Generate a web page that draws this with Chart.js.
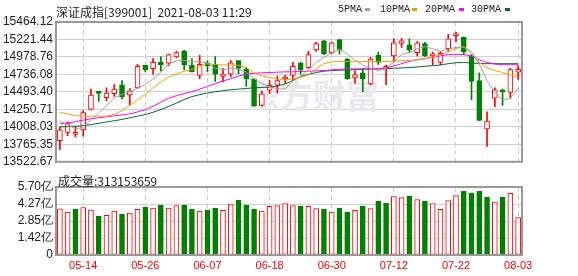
<!DOCTYPE html>
<html>
<head>
<meta charset="utf-8">
<script src="https://cdn.jsdelivr.net/npm/chart.js@4/dist/chart.umd.min.js"></script>
<style>
body { margin: 0; width: 578px; height: 276px; background: #fff; position: relative; overflow: hidden; }
canvas { position: absolute; left: 0; }
#kline { top: 0; }
#vol { top: 172px; }
.t { position: absolute; white-space: nowrap; line-height: 1; color: #222; }
#title { left: 56px; top: 3px; font: 12px "Noto Sans CJK SC", sans-serif; }
#volTitle { left: 58px; top: 172px; font: 12px "Noto Sans CJK SC", sans-serif; }
.lg { font: 10px "Liberation Mono", monospace; top: 4px; }
.box { position: absolute; top: 8px; width: 5px; height: 3px; }
</style>
</head>
<body>
<canvas id="kline" width="578" height="172"></canvas>
<canvas id="vol" width="578" height="104"></canvas>
<div class="t" id="title">深证成指[399001]&nbsp; 2021-08-03 11:29</div>
<div class="t lg" style="left:338px">5PMA</div><div class="box" style="left:365px;background:#a0a0a0"></div>
<div class="t lg" style="left:380px">10PMA</div><div class="box" style="left:412px;background:#f5a000"></div>
<div class="t lg" style="left:425px">20PMA</div><div class="box" style="left:459px;background:#ff00ff"></div>
<div class="t lg" style="left:471px">30PMA</div><div class="box" style="left:505px;background:#006a30"></div>
<div class="t" id="volTitle">成交量:313153659</div>
<script>
const dates = [
    '05-11', '05-12', '05-13', '05-14', '05-17', '05-18', '05-19', '05-20', '05-21', '05-24',
    '05-25', '05-26', '05-27', '05-28', '05-31', '06-01', '06-02', '06-03', '06-04', '06-07',
    '06-08', '06-09', '06-10', '06-11', '06-15', '06-16', '06-17', '06-18', '06-21', '06-22',
    '06-23', '06-24', '06-25', '06-28', '06-29', '06-30', '07-01', '07-02', '07-05', '07-06',
    '07-07', '07-08', '07-09', '07-12', '07-13', '07-14', '07-15', '07-16', '07-19', '07-20',
    '07-21', '07-22', '07-23', '07-26', '07-27', '07-28', '07-29', '07-30', '08-02', '08-03'
];
const shownDates = ['05-14', '05-26', '06-07', '06-18', '06-30', '07-12', '07-22', '08-03'];

const open = [
    13817, 13930, 13903, 13966, 14251, 14486, 14414, 14468, 14591, 14450,
    14550, 14862, 14817, 14907, 14894, 14980, 15061, 14862, 14722, 14898,
    14876, 14708, 14740, 14930, 14812, 14676, 14305, 14518, 14586, 14672,
    14722, 14894, 14830, 15075, 15201, 15038, 15219, 14948, 14686, 14758,
    14604, 15002, 14821, 14993, 15165, 15147, 15038, 15165, 14993, 14903,
    15093, 15274, 15256, 14993, 14649, 13980, 14405, 14505, 14486, 14767
];
const high = [
    14007, 14079, 14016, 14233, 14532, 14505, 14550, 14595, 14649, 14541,
    14876, 14862, 14957, 14984, 15020, 15057, 15070, 14957, 15002, 14930,
    14984, 14821, 14930, 14930, 14835, 14676, 14505, 14649, 14713, 14722,
    14903, 14903, 15057, 15183, 15210, 15183, 15219, 14957, 14785, 14821,
    14975, 15048, 14867, 15229, 15238, 15229, 15192, 15183, 15048, 15057,
    15292, 15319, 15256, 15011, 14758, 14215, 14550, 14532, 14821, 14857
];
const low = [
    13690, 13885, 13871, 13880, 14242, 14360, 14369, 14432, 14396, 14314,
    14541, 14776, 14740, 14785, 14857, 14966, 14803, 14767, 14676, 14776,
    14640, 14631, 14704, 14744, 14568, 14296, 14296, 14468, 14477, 14613,
    14649, 14740, 14821, 15057, 15011, 15020, 15020, 14667, 14613, 14495,
    14586, 14876, 14595, 14912, 15111, 15038, 14993, 14984, 14867, 14867,
    15057, 15192, 15011, 14387, 14097, 13735, 14287, 14305, 14405, 14667
];
const close = [
    13966, 14052, 13921, 14206, 14450, 14473, 14477, 14532, 14423, 14505,
    14848, 14803, 14903, 14871, 15011, 15038, 14867, 14776, 14876, 14857,
    14740, 14740, 14898, 14821, 14676, 14296, 14468, 14586, 14649, 14686,
    14848, 14803, 15011, 15165, 15020, 15174, 15075, 14676, 14731, 14676,
    14948, 14903, 14848, 15174, 15201, 15075, 15174, 14993, 15011, 15029,
    15229, 15292, 15048, 14640, 14097, 14088, 14523, 14496, 14803, 14808
];

const ma5 = [
    14088, 14034, 13984, 13998, 14111, 14201, 14305, 14405, 14459, 14496,
    14541, 14595, 14677, 14767, 14880, 14925, 14930, 14912, 14912, 14889,
    14821, 14803, 14817, 14808, 14767, 14677, 14609, 14564, 14536, 14532,
    14649, 14713, 14799, 14903, 14970, 15034, 15088, 15020, 14934, 14866,
    14821, 14785, 14821, 14912, 15016, 15039, 15093, 15120, 15093, 15057,
    15088, 15111, 15120, 15048, 14880, 14650, 14487, 14378, 14405, 14545
];
const ma10 = [
    14210, 14188, 14165, 14156, 14156, 14156, 14156, 14179, 14233, 14305,
    14382, 14459, 14550, 14631, 14699, 14741, 14780, 14805, 14850, 14885,
    14874, 14868, 14867, 14862, 14829, 14755, 14715, 14696, 14673, 14656,
    14677, 14695, 14731, 14812, 14885, 14912, 14917, 14917, 14912, 14912,
    14917, 14917, 14917, 14921, 14926, 14930, 14939, 14953, 14975, 15007,
    15048, 15098, 15116, 15039, 14903, 14831, 14790, 14763, 14731, 14695
];
const ma20 = [
    14052, 14061, 14079, 14102, 14120, 14134, 14147, 14161, 14174, 14188,
    14215, 14247, 14292, 14351, 14405, 14441, 14469, 14496, 14532, 14568,
    14609, 14645, 14677, 14713, 14740, 14754, 14758, 14763, 14767, 14772,
    14772, 14776, 14781, 14785, 14790, 14799, 14808, 14812, 14812, 14812,
    14812, 14817, 14826, 14853, 14885, 14917, 14939, 14957, 14975, 14993,
    15012, 15016, 15012, 14993, 14939, 14903, 14880, 14871, 14871, 14871
];
const ma30 = [
    14007, 14011, 14016, 14025, 14039, 14057, 14075, 14093, 14111, 14134,
    14156, 14179, 14211, 14247, 14292, 14337, 14387, 14428, 14455, 14478,
    14496, 14509, 14523, 14532, 14541, 14550, 14555, 14559, 14575, 14605,
    14650, 14708, 14736, 14763, 14781, 14790, 14794, 14799, 14803, 14808,
    14812, 14812, 14817, 14821, 14826, 14831, 14840, 14849, 14858, 14867,
    14885, 14898, 14903, 14894, 14889, 14885, 14885, 14885, 14885, 14885
];

// 成交量, 单位: 亿
const volume = [
    3.87, 3.60, 3.85, 3.98, 3.76, 3.27, 3.32, 3.68, 3.43, 3.51,
    3.82, 4.01, 3.93, 4.18, 3.93, 4.15, 4.18, 3.85, 3.68, 3.76,
    3.93, 3.74, 4.23, 4.59, 4.18, 3.85, 3.68, 4.07, 4.15, 4.32,
    4.15, 4.10, 4.07, 3.90, 3.85, 3.60, 3.93, 3.60, 3.74, 4.10,
    3.90, 4.51, 4.34, 4.90, 4.81, 4.93, 4.65, 4.51, 4.32, 3.82,
    4.57, 4.98, 5.34, 5.20, 5.34, 4.84, 4.43, 4.84, 5.17, 3.13
];
const volUp = [
    1, 1, 0, 1, 1, 0, 1, 1, 0, 1,
    1, 0, 1, 0, 1, 1, 0, 0, 1, 0,
    0, 1, 1, 0, 0, 0, 1, 1, 1, 1,
    1, 0, 1, 1, 0, 1, 0, 0, 1, 0,
    1, 0, 0, 1, 1, 0, 1, 0, 1, 1,
    1, 1, 0, 0, 0, 0, 1, 0, 1, 1
];

const priceTicks = [13522.67, 13765.35, 14008.03, 14250.71, 14493.40, 14736.08, 14978.76, 15221.44, 15464.12];
const volTicks = [0, 1.425, 2.85, 4.275, 5.70];
const volTickLabels = ['0', '1.42亿', '2.85亿', '4.27亿', '5.70亿'];

const RED = '#ff0000';
const GREEN = '#008000';
const GRID = '#d0d0d0';

const isUp = dates.map((d, i) => close[i] >= open[i]);

const frame = {
    id: 'frame',
    afterDraw(chart) {
        const a = chart.chartArea;
        const ctx = chart.ctx;
        ctx.save();
        ctx.strokeStyle = '#999';
        ctx.lineWidth = 2;
        ctx.strokeRect(a.left, a.top, a.right - a.left, a.bottom - a.top);
        ctx.restore();
    }
};

const watermark = {
    id: 'watermark',
    beforeDatasetsDraw(chart) {
        const ctx = chart.ctx;
        ctx.save();
        ctx.fillStyle = '#e8e8ee';
        ctx.font = 'bold 33px "Noto Sans CJK SC"';
        ctx.textAlign = 'right';
        ctx.textBaseline = 'middle';
        ctx.fillText('东方财富', 379, 95);
        ctx.restore();
    }
};

const xGrid = {
    offset: false,
    drawTicks: false,
    color: (ctx) => shownDates.includes(dates[ctx.index]) ? '#cccccc' : 'rgba(0,0,0,0)'
};

function maLine(label, values, color) {
    return {
        type: 'line',
        label: label,
        data: values,
        borderColor: color,
        borderWidth: 1,
        pointRadius: 0,
        tension: 0,
        order: 1
    };
}

Chart.defaults.font.family = '"Liberation Sans", sans-serif';

const kChart = new Chart(document.getElementById('kline'), {
    type: 'bar',
    data: {
        labels: dates,
        datasets: [{
            label: 'wick',
            data: dates.map((d, i) => [low[i], high[i]]),
            backgroundColor: isUp.map(u => u ? RED : GREEN),
            barThickness: 1,
            grouped: false,
            order: 3
        },
        {
            label: 'body',
            data: dates.map((d, i) => [open[i], close[i]]),
            backgroundColor: isUp.map(u => u ? '#ffffff' : GREEN),
            borderColor: isUp.map(u => u ? RED : GREEN),
            borderWidth: 1,
            borderSkipped: false,
            barThickness: 5,
            minBarLength: 2,
            grouped: false,
            order: 2
        },
        maLine('5PMA', ma5, '#a0a0a0'),
        maLine('10PMA', ma10, '#f5a000'),
        maLine('20PMA', ma20, '#ff00ff'),
        maLine('30PMA', ma30, '#006a30')
        ]
    },
    options: {
        responsive: false,
        animation: false,
        layout: { padding: { top: 22, right: 56, bottom: 7, left: 0 } },
        plugins: { legend: { display: false }, tooltip: { enabled: false } },
        scales: {
            x: {
                grid: xGrid,
                border: { display: false, dash: [5, 3] },
                ticks: { display: false },
                afterFit: (scale) => { scale.height = 0; }
            },
            y: {
                min: 13522.67,
                max: 15464.12,
                afterBuildTicks: (scale) => { scale.ticks = priceTicks.map(v => ({ value: v })); },
                afterFit: (scale) => { scale.width = 56; },
                grid: { color: GRID, drawTicks: false },
                border: { display: false },
                ticks: {
                    autoSkip: false,
                    padding: 3,
                    color: '#222',
                    font: { size: 12 },
                    callback: (value) => value.toFixed(2)
                }
            }
        }
    },
    plugins: [watermark, frame]
});

const vChart = new Chart(document.getElementById('vol'), {
    type: 'bar',
    data: {
        labels: dates,
        datasets: [{
            label: '成交量',
            data: volume,
            backgroundColor: volUp.map(u => u ? '#ffffff' : GREEN),
            borderColor: volUp.map(u => u ? RED : GREEN),
            borderWidth: 1,
            borderSkipped: false,
            barThickness: 5
        }]
    },
    options: {
        responsive: false,
        animation: false,
        layout: { padding: { top: 15, right: 56, bottom: 0, left: 0 } },
        plugins: { legend: { display: false }, tooltip: { enabled: false } },
        scales: {
            x: {
                grid: xGrid,
                border: { display: false, dash: [5, 3] },
                afterFit: (scale) => { scale.height = 21; },
                ticks: {
                    autoSkip: false,
                    maxRotation: 0,
                    padding: 4,
                    color: RED,
                    font: { size: 11 },
                    callback: function (value) {
                        const d = this.getLabelForValue(value);
                        return shownDates.includes(d) ? d : '';
                    }
                }
            },
            y: {
                min: 0,
                max: 5.70,
                afterBuildTicks: (scale) => { scale.ticks = volTicks.map(v => ({ value: v })); },
                afterFit: (scale) => { scale.width = 56; },
                grid: { color: GRID, drawTicks: false },
                border: { display: false },
                ticks: {
                    autoSkip: false,
                    padding: 3,
                    color: '#222',
                    font: { size: 12 },
                    callback: (value, index) => volTickLabels[index]
                }
            }
        }
    },
    plugins: [frame]
});
</script>
</body>
</html>
